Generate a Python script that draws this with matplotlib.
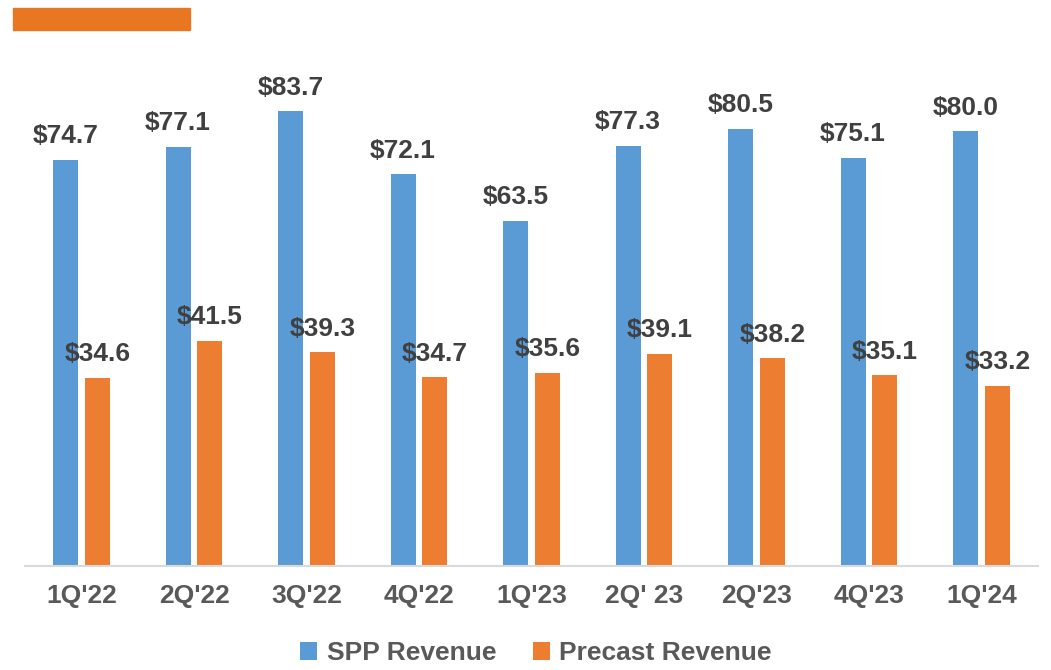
import numpy as np
import matplotlib.pyplot as plt
from matplotlib.patches import Rectangle

quarters = ["1Q'22", "2Q'22", "3Q'22", "4Q'22", "1Q'23", "2Q' 23", "2Q'23", "4Q'23", "1Q'24"]
spp = [74.7, 77.1, 83.7, 72.1, 63.5, 77.3, 80.5, 75.1, 80.0]
precast = [34.6, 41.5, 39.3, 34.7, 35.6, 39.1, 38.2, 35.1, 33.2]

blue = '#5B9BD5'
orange = '#ED7D31'
grey = '#595959'
dark = '#404040'

plt.rcParams['font.family'] = ['Liberation Sans', 'DejaVu Sans']

fig = plt.figure(figsize=(10.51, 6.70), dpi=100)
ax = fig.add_axes([25.25/1051, 104/670, 1012.5/1051, 489/670])

x = np.arange(len(quarters))
w = 0.222
off = 0.142
b1 = ax.bar(x - off, spp, w, color=blue, label='SPP Revenue')
b2 = ax.bar(x + off, precast, w, color=orange, label='Precast Revenue')

for xi, v in zip(x, spp):
    ax.annotate('$%.1f' % v, (xi - off, v), xytext=(0, 12), textcoords='offset points',
                ha='center', va='baseline', fontsize=19, fontweight='bold', color=dark,
                annotation_clip=False)
for xi, v in zip(x, precast):
    ax.annotate('$%.1f' % v, (xi + off, v), xytext=(0, 12), textcoords='offset points',
                ha='center', va='baseline', fontsize=19, fontweight='bold', color=dark,
                annotation_clip=False)

ax.set_xlim(-0.5, len(quarters) - 0.5)
ax.set_ylim(0, 90)
ax.set_yticks([])
ax.set_xticks(x)
ax.set_xticklabels(quarters, fontsize=19, fontweight='bold', color=grey)
ax.tick_params(axis='x', length=0, pad=13)
for s in ['top', 'right', 'left']:
    ax.spines[s].set_visible(False)
ax.spines['bottom'].set_color('#D9D9D9')
ax.spines['bottom'].set_linewidth(1.5)

leg = fig.legend(handles=[b1, b2], loc='center', bbox_to_anchor=(536/1051, 1 - 653/670),
                 ncol=2, frameon=False, handlelength=0.65, handleheight=0.65,
                 handletextpad=0.35, columnspacing=1.4,
                 prop={'size': 19, 'weight': 'bold'})
for t in leg.get_texts():
    t.set_color(grey)

fig.patches.append(Rectangle((13/1051, 1 - 30/670), 177/1051, 22/670,
                             transform=fig.transFigure, color='#E87722'))

plt.savefig('out.png', dpi=100)
